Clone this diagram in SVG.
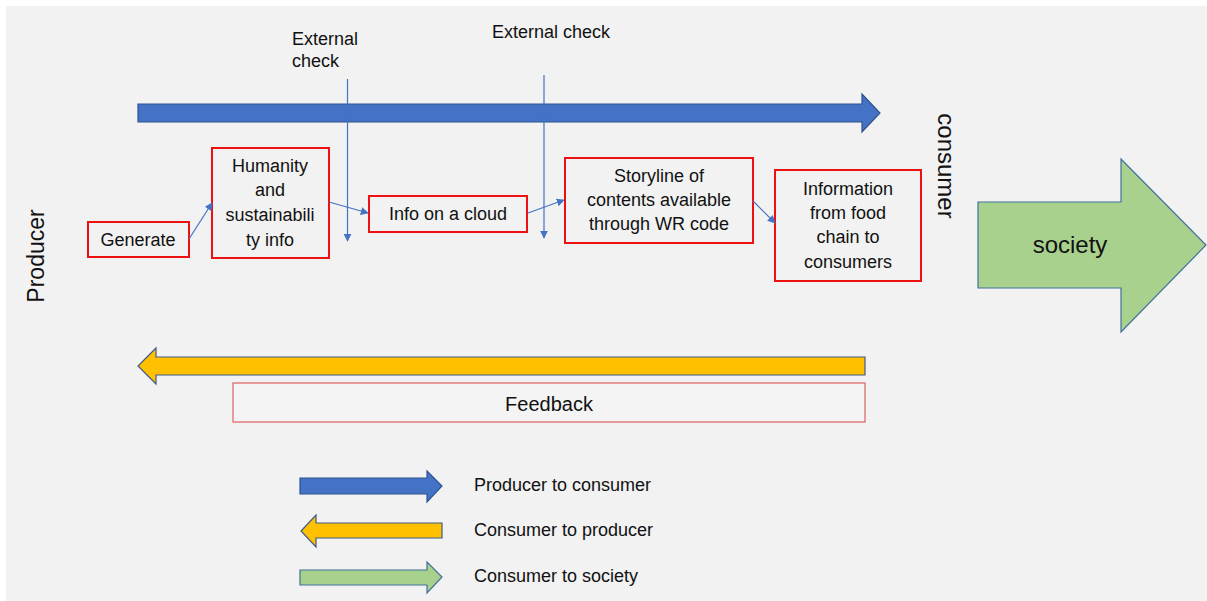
<svg xmlns="http://www.w3.org/2000/svg" width="1207" height="601" viewBox="0 0 1207 601">
<style>
text{font-family:"Liberation Sans",Arial,sans-serif;fill:#111;}
.t18{font-size:18px;}
.mid{text-anchor:middle;}
.node{fill:#f2f2f2;stroke:#ee1111;stroke-width:2;}
.conn{stroke:#4472c4;stroke-width:1.2;fill:none;}
.blue{fill:#4472c4;stroke:#2f528f;stroke-width:1.2;}
.yellow{fill:#ffc000;stroke:#3f5a8a;stroke-width:1.2;}
.green{fill:#a9d18e;stroke:#41719c;stroke-width:1.2;}
</style>
<defs>
<marker id="ah" viewBox="0 0 10 10" refX="9" refY="5" markerWidth="8" markerHeight="8" markerUnits="userSpaceOnUse" orient="auto">
<path d="M0,0 L10,5 L0,10 z" fill="#4472c4"/>
</marker>
</defs>
<rect x="0" y="0" width="1207" height="601" fill="#ffffff"/>
<rect x="6" y="6" width="1201" height="595" fill="#f2f2f2"/>

<g id="flow-arrows">
<polygon class="blue" points="138,104 862,104 862,94 880,113 862,132 862,122 138,122"/>
<polygon class="yellow" points="865,357 156,357 156,348 138,366 156,384 156,375 865,375"/>
</g>

<g id="producer"><text transform="translate(44,256) rotate(-90)" class="mid" style="font-size:23px">Producer</text></g>
<g id="consumer"><text transform="translate(938,166) rotate(90)" class="mid" style="font-size:24px">consumer</text></g>

<g id="ext1"><text x="292" y="45" class="t18">External</text><text x="292" y="67" class="t18">check</text></g>
<g id="ext2"><text x="492" y="38" class="t18">External check</text></g>

<g id="generate"><rect class="node" x="88" y="222" width="101" height="35"/><text x="138" y="246" class="t18 mid">Generate</text></g>
<g id="humanity"><rect class="node" x="212" y="148" width="117" height="110"/>
<text x="270" y="172" class="t18 mid">Humanity</text><text x="270" y="196" class="t18 mid">and</text><text x="270" y="221" class="t18 mid">sustainabili</text><text x="270" y="246" class="t18 mid">ty info</text></g>
<g id="cloud"><rect class="node" x="369" y="196" width="158" height="36"/><text x="448" y="220" class="t18 mid">Info on a cloud</text></g>
<g id="storyline"><rect class="node" x="565" y="158" width="188" height="85"/>
<text x="659" y="182" class="t18 mid">Storyline of</text><text x="659" y="206" class="t18 mid">contents available</text><text x="659" y="230" class="t18 mid">through WR code</text></g>
<g id="information"><rect class="node" x="775" y="170" width="146" height="111"/>
<text x="848" y="195" class="t18 mid">Information</text><text x="848" y="219" class="t18 mid">from food</text><text x="848" y="243" class="t18 mid">chain to</text><text x="848" y="268" class="t18 mid">consumers</text></g>

<g id="society"><polygon class="green" points="978,202 1121,202 1121,159 1206,245 1121,332 1121,288 978,288"/>
<text x="1070" y="253" class="mid" style="font-size:24px">society</text></g>

<g id="feedback"><rect x="233" y="383" width="632" height="39" fill="#f4f4f4" stroke="#e06060" stroke-width="1.2"/>
<text x="549" y="411" class="mid" style="font-size:20px">Feedback</text></g>

<g id="connectors">
<line class="conn" x1="347.5" y1="79" x2="347.5" y2="241" marker-end="url(#ah)"/>
<line class="conn" x1="544" y1="75" x2="544" y2="238" marker-end="url(#ah)"/>
<line class="conn" x1="189" y1="239" x2="212" y2="203" marker-end="url(#ah)"/>
<line class="conn" x1="329" y1="202" x2="368" y2="213" marker-end="url(#ah)"/>
<line class="conn" x1="528" y1="213" x2="564" y2="200" marker-end="url(#ah)"/>
<line class="conn" x1="753" y1="201" x2="775" y2="223" marker-end="url(#ah)"/>
</g>

<g id="legend">
<polygon class="blue" points="300,478 427,478 427,471 442,486 427,502 427,494 300,494"/>
<text x="474" y="491" class="t18">Producer to consumer</text>
<polygon class="yellow" points="442,523 316,523 316,515 301,531 316,547 316,538 442,538"/>
<text x="474" y="536" class="t18">Consumer to producer</text>
<polygon class="green" points="300,570 427,570 427,562 442,577 427,593 427,585 300,585"/>
<text x="474" y="582" class="t18">Consumer to society</text>
</g>
</svg>
